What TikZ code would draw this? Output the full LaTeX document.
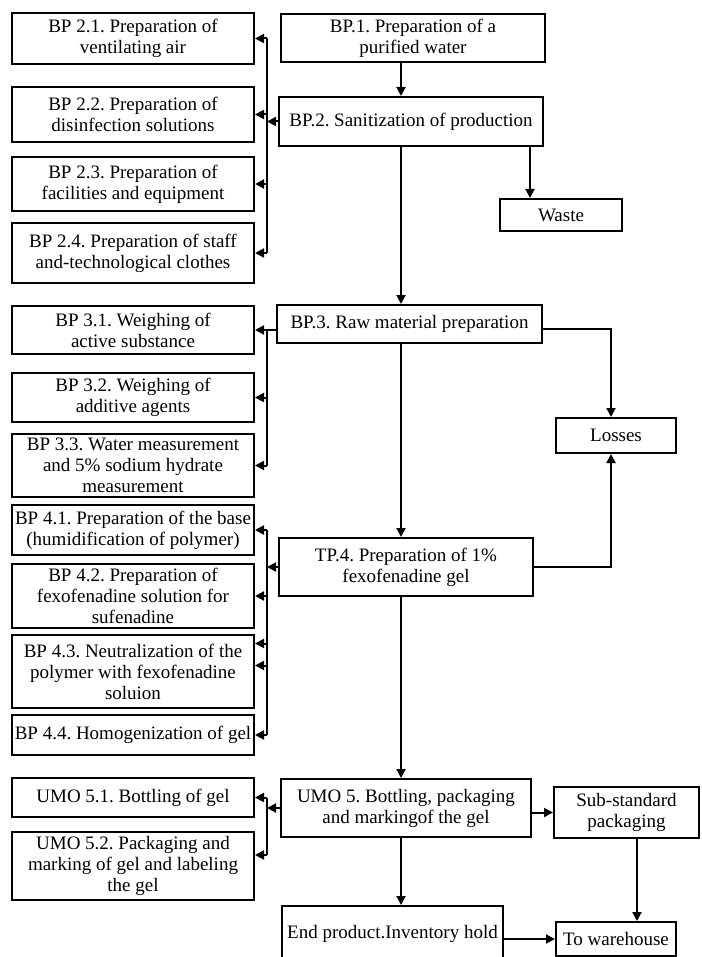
\documentclass[tikz,border=0pt]{standalone}
\usepackage{fontspec}
\setmainfont{Liberation Serif}
\usetikzlibrary{arrows.meta}
\frenchspacing

\begin{document}
\begin{tikzpicture}
            [>={Triangle[length=9pt,width=9pt]}, x=1pt, y=-1pt, line width=2pt,
             box/.style={draw, align=center, inner sep=0pt, font=\fontsize{19}{21}\selectfont},
             subbox/.style={box, minimum width=242pt}]
            \useasboundingbox (0, 0) rectangle (701, 957);

            \node[box, minimum width=264pt, minimum height=48pt] (bp1) at (413, 38) {BP.1. Preparation of a\\purified water};
            \node[box, minimum width=264pt, minimum height=49pt] (bp2) at (411, 121.5) {BP.2. Sanitization of production};
            \node[box, minimum width=122pt, minimum height=32pt] (waste) at (561, 215) {Waste};
            \node[box, minimum width=265pt, minimum height=38pt] (bp3) at (409.5, 324) {BP.3. Raw material preparation};
            \node[box, minimum width=120pt, minimum height=35pt] (losses) at (616, 435.5) {Losses};
            \node[box, minimum width=254pt, minimum height=58pt] (tp4) at (406, 567) {TP.4. Preparation of 1\%\\fexofenadine gel};
            \node[box, minimum width=250pt, minimum height=58pt] (umo5) at (406, 808) {UMO 5. Bottling, packaging\\and markingof the gel};
            \node[box, minimum width=145pt, minimum height=51pt] (sub) at (626.5, 812.5) {Sub-standard\\packaging};
            \node[box, minimum width=221pt, minimum height=56pt] (endp) at (392.5, 934) {End product.Inventory hold};
            \node[box, minimum width=120pt, minimum height=34pt] (wh) at (616, 939) {To warehouse};

            \node[subbox, minimum height=51pt] (s21) at (133, 38.5) {BP 2.1. Preparation of\\ventilating air};
            \node[subbox, minimum height=55pt] (s22) at (133, 114.5) {BP 2.2. Preparation of\\disinfection solutions};
            \node[subbox, minimum height=54pt] (s23) at (133, 184) {BP 2.3. Preparation of\\facilities and equipment};
            \node[subbox, minimum height=60pt] (s24) at (133, 253) {BP 2.4. Preparation of staff\\and-technological clothes};
            \node[subbox, minimum height=48pt] (s31) at (133, 330) {BP 3.1. Weighing of\\active substance};
            \node[subbox, minimum height=49pt] (s32) at (133, 397.5) {BP 3.2. Weighing of\\additive agents};
            \node[subbox, minimum height=63pt] (s33) at (133, 465.5) {BP 3.3. Water measurement\\and 5\% sodium hydrate\\measurement};
            \node[subbox, minimum height=50pt] (s41) at (133, 530) {BP 4.1. Preparation of the base\\(humidification of polymer)};
            \node[subbox, minimum height=64pt] (s42) at (133, 596) {BP 4.2. Preparation of\\fexofenadine solution for\\sufenadine};
            \node[subbox, minimum height=73pt] (s43) at (133, 671.5) {BP 4.3. Neutralization of the\\polymer with fexofenadine\\soluion};
            \node[subbox, minimum height=40pt] (s44) at (133, 735) {BP 4.4. Homogenization of gel};
            \node[subbox, minimum height=39pt] (s51) at (133, 797.5) {UMO 5.1. Bottling of gel};
            \node[subbox, minimum height=68pt] (s52) at (133, 866) {UMO 5.2. Packaging and\\marking of gel and labeling\\the gel};

            \coordinate (trunk) at (401, 0);
            \coordinate (bus) at (267, 0);
            \coordinate (wx) at (530, 0);
            \coordinate (lx) at (611, 0);
            \coordinate (whx) at (637, 0);
            \coordinate (s43a) at ([yshift=28pt]s43.east);
            \coordinate (s43b) at ([yshift=6pt]s43.east);
            \coordinate (s52a) at ([yshift=11pt]s52.east);

            \draw [->] (bp1.south -| trunk) -- (bp2.north -| trunk);
            \draw [->] (bp2.south -| trunk) -- (bp3.north -| trunk);
            \draw [->] (bp3.south -| trunk) -- (tp4.north -| trunk);
            \draw [->] (tp4.south -| trunk) -- (umo5.north -| trunk);
            \draw [->] (umo5.south -| trunk) -- (endp.north -| trunk);
            \draw [->] (bp2.south -| wx) -- (waste.north -| wx);

            \draw [->] (bp2.west) -- (bp2.west -| bus);
            \draw (s21.east -| bus) -- (s24.east -| bus);
            \foreach \s in {s21, s22, s23, s24}
                \draw [->] (\s.east -| bus) -- (\s.east);

            \draw [->] (bp3.west |- s31.east) -- (s31.east);
            \draw (s31.east -| bus) -- (s33.east -| bus);
            \foreach \s in {s32, s33}
                \draw [->] (\s.east -| bus) -- (\s.east);

            \draw [->] (tp4.west) -- (tp4.west -| bus);
            \draw (s41.east -| bus) -- (s44.east -| bus);
            \foreach \s in {s41, s42, s43a, s43b, s44}
                \draw [->] (\s.east -| bus) -- (\s.east);

            \draw [->] (umo5.west) -- (umo5.west -| bus);
            \draw (s51.east -| bus) -- (s52a -| bus);
            \draw [->] (s51.east -| bus) -- (s51.east);
            \draw [->] (s52a -| bus) -- (s52a);

            \draw [->] ([yshift=-5pt]bp3.east) -| (losses.north -| lx);
            \draw [->] (tp4.east) -| (losses.south -| lx);
            \draw [->] (umo5.east |- sub.west) -- (sub.west);
            \draw [->] (sub.south -| whx) -- (wh.north -| whx);
            \draw [->] (endp.east |- wh.west) -- (wh.west);
        \end{tikzpicture}
\end{document}
